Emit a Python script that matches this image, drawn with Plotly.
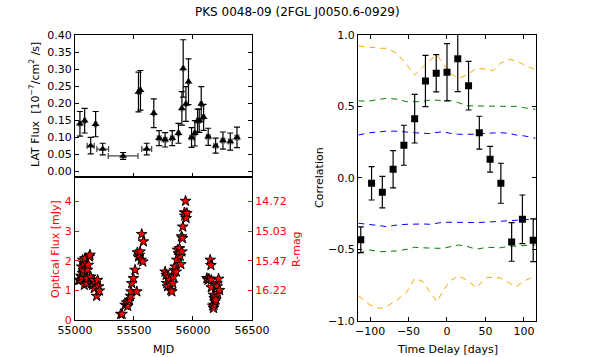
import plotly.graph_objects as go

# LAT gamma-ray light curve (MJD, flux in 1e-7 /cm2/s)
lat_mjd = [55042, 55082, 55133, 55175, 55235, 55408, 55538, 55555, 55608, 55668,
           55713, 55764, 55824, 55877, 55906, 55917, 55940, 55962, 55988, 56016,
           56039, 56053, 56070, 56090, 56129, 56192, 56254, 56316, 56373]
lat_flux = [0.140, 0.149, 0.076, 0.139, 0.066, 0.046, 0.233, 0.238, 0.066, 0.171,
            0.098, 0.093, 0.098, 0.112, 0.185, 0.302, 0.198, 0.263, 0.100, 0.112,
            0.149, 0.149, 0.198, 0.159, 0.102, 0.076, 0.091, 0.088, 0.100]
lat_err = [0.036, 0.036, 0.024, 0.037, 0.017, 0.010, 0.058, 0.058, 0.017, 0.042,
           0.022, 0.021, 0.022, 0.029, 0.049, 0.084, 0.051, 0.067, 0.029, 0.037,
           0.034, 0.034, 0.051, 0.038, 0.025, 0.022, 0.025, 0.025, 0.030]
lat_xerr = [8, 8, 30, 8, 50, 126, 6, 6, 42, 8,
            15, 15, 15, 10, 6, 6, 6, 6, 15, 10,
            8, 8, 8, 8, 15, 15, 15, 15, 15]

# optical R-band flux (mJy)
opt_mjd = [55031, 55042, 55051, 55057, 55057, 55065, 55065, 55071, 55076, 55079,
           55085, 55093, 55099, 55105, 55105, 55113, 55122, 55127, 55133, 55142,
           55150, 55156, 55164, 55173, 55184, 55192, 55201, 55207,
           55388, 55399, 55425, 55439, 55447, 55453, 55461, 55470, 55475, 55481,
           55495, 55509, 55524, 55529, 55538, 55546, 55552, 55560, 55566, 55575, 55580,
           55764, 55773, 55778, 55784, 55792, 55801, 55807, 55812, 55821, 55829,
           55835, 55841, 55849, 55858, 55863, 55869, 55877, 55886, 55892, 55897,
           55903, 55906, 55911, 55914, 55928, 55931, 55937, 55942, 55948,
           56118, 56127, 56135, 56146, 56152, 56155, 56155, 56168, 56174, 56174,
           56178, 56180, 56186, 56188, 56194, 56203, 56205, 56208, 56217, 56225]
opt_flux = [1.35, 1.35, 1.49, 1.80, 1.46, 2.03, 1.58, 1.69, 1.92, 1.18,
            2.08, 1.46, 1.24, 1.69, 1.41, 1.86, 2.14, 2.20, 1.46, 1.24,
            1.18, 1.35, 1.07, 1.24, 0.81, 1.35, 1.13, 0.99,
            0.20, 0.20, 0.51, 0.59, 0.47, 0.62, 0.68, 0.81, 0.96, 1.24,
            1.41, 1.69, 0.96, 2.28, 2.14, 2.20, 2.31, 2.03, 2.90, 1.97, 2.65,
            1.63, 1.52, 1.24, 1.13, 1.46, 1.35, 1.18, 1.01, 0.96, 1.24,
            1.46, 1.69, 1.80, 1.63, 2.03, 2.37, 2.25, 2.42, 2.16, 1.88,
            2.82, 2.31, 2.76, 3.15, 3.63, 3.52, 4.02, 3.44, 3.61,
            1.41, 1.35, 1.39, 2.03, 1.85, 1.35, 1.10, 0.48, 0.85, 0.40,
            0.51, 0.73, 0.62, 0.79, 0.68, 1.24, 1.13, 0.90, 1.39, 1.01]

rmag_vals = [1, 2, 3, 4]
rmag_text = ["16.22", "15.47", "15.03", "14.72"]

# DCF
lag = [-112, -98, -84, -70, -56, -42, -28, -14, 0, 14, 28, 42, 56, 70, 84, 98, 112]
dcf = [-0.433, -0.038, -0.10, 0.06, 0.228, 0.414, 0.678, 0.732, 0.739, 0.834,
       0.645, 0.316, 0.13, -0.038, -0.449, -0.29, -0.437]
dcf_err = [0.09, 0.117, 0.11, 0.13, 0.14, 0.17, 0.18, 0.13, 0.2, 0.23,
           0.17, 0.115, 0.09, 0.14, 0.135, 0.17, 0.15]

# significance levels
sig_lag = [-115, -100, -87, -78, -65, -52, -42, -31, -22, -13, -5, 4, 15, 26, 38, 52, 60, 69, 80, 90, 101, 115]
sig99_up = [0.923, 0.914, 0.907, 0.907, 0.872, 0.79, 0.72, 0.778, 0.825, 0.86, 0.802, 0.732,
            0.697, 0.72, 0.767, 0.76, 0.75, 0.802, 0.83, 0.82, 0.79, 0.755]
sig95_up = [0.538, 0.538, 0.55, 0.557, 0.55, 0.533, 0.533, 0.535, 0.545, 0.545, 0.545, 0.54,
            0.526, 0.505, 0.503, 0.503, 0.503, 0.503, 0.503, 0.50, 0.49, 0.48]
sig90_up = [0.30, 0.316, 0.322, 0.328, 0.326, 0.323, 0.316, 0.312, 0.31, 0.318, 0.323, 0.312,
            0.305, 0.305, 0.305, 0.312, 0.314, 0.316, 0.312, 0.30, 0.293, 0.277]
sig90_lo = [-0.318, -0.325, -0.335, -0.342, -0.33, -0.325, -0.323, -0.323, -0.325, -0.318, -0.311, -0.311,
            -0.313, -0.313, -0.313, -0.31, -0.307, -0.305, -0.298, -0.295, -0.29, -0.288]
sig95_lo = [-0.528, -0.505, -0.517, -0.517, -0.512, -0.50, -0.486, -0.49, -0.493, -0.493, -0.493, -0.485,
            -0.47, -0.48, -0.5, -0.486, -0.49, -0.49, -0.48, -0.477, -0.475, -0.47]
sig99_lo = [-0.827, -0.89, -0.914, -0.9, -0.855, -0.797, -0.703, -0.727, -0.80, -0.867, -0.79, -0.72,
            -0.687, -0.715, -0.769, -0.696, -0.698, -0.70, -0.734, -0.762, -0.72, -0.687]

FONT = "DejaVu Sans"
RED = "#ff0000"

fig = go.Figure()

fig.add_trace(go.Scatter(
    x=lat_mjd, y=lat_flux, mode="markers", xaxis="x", yaxis="y",
    marker=dict(symbol="triangle-up", size=7, color="black"),
    error_y=dict(type="data", array=lat_err, color="black", thickness=1.2, width=3),
    error_x=dict(type="data", array=lat_xerr, color="#444444", thickness=1.2, width=3),
))

fig.add_trace(go.Scatter(
    x=opt_mjd, y=opt_flux, mode="markers", xaxis="x2", yaxis="y2",
    marker=dict(symbol="star", size=8, color=RED, line=dict(color="black", width=1)),
))
# invisible trace to hold the R-mag axis
fig.add_trace(go.Scatter(x=[55000], y=[1], mode="markers", xaxis="x2", yaxis="y3",
                         marker=dict(opacity=0), hoverinfo="skip"))

for yy, col in [(sig99_up, "orange"), (sig95_up, "green"), (sig90_up, "blue"),
                (sig90_lo, "blue"), (sig95_lo, "green"), (sig99_lo, "orange")]:
    fig.add_trace(go.Scatter(x=sig_lag, y=yy, mode="lines", xaxis="x3", yaxis="y4",
                             line=dict(color=col, width=1, dash="6px,5px")))

fig.add_trace(go.Scatter(
    x=lag, y=dcf, mode="markers", xaxis="x3", yaxis="y4",
    marker=dict(symbol="square", size=7, color="black"),
    error_y=dict(type="data", array=dcf_err, color="black", thickness=1.2, width=3),
))

ax = dict(showgrid=False, zeroline=False, showline=True, linecolor="black", linewidth=1,
          ticks="inside", ticklen=4, tickcolor="black", automargin=False,
          tickfont=dict(family=FONT, size=11, color="black"))

L = [0.126, 0.4235]
R = [0.6017, 0.9008]

fig.update_layout(
    width=595, height=357, showlegend=False,
    margin=dict(l=0, r=0, t=0, b=0),
    paper_bgcolor="white", plot_bgcolor="white",
    font=dict(family=FONT, size=11, color="black"),
    xaxis=dict(ax, domain=L, anchor="y", range=[55000, 56500], tickvals=[55000, 55500, 56000, 56500],
               showticklabels=False, mirror="ticks"),
    yaxis=dict(ax, domain=[0.504, 0.902], anchor="x", range=[-0.016, 0.40], dtick=0.05,
               tickformat=".2f", mirror="ticks"),
    xaxis2=dict(ax, domain=L, anchor="y2", range=[55000, 56500], tickvals=[55000, 55500, 56000, 56500],
                tickformat="d", mirror=True),
    yaxis2=dict(ax, domain=[0.1036, 0.504], anchor="x2", range=[0, 4.83], dtick=1,
                tickcolor=RED, tickfont=dict(family=FONT, size=11, color=RED)),
    yaxis3=dict(ax, overlaying="y2", side="right", anchor="x2", range=[0, 4.83],
                tickvals=rmag_vals, ticktext=rmag_text,
                tickcolor=RED, tickfont=dict(family=FONT, size=11, color=RED)),
    xaxis3=dict(ax, domain=R, anchor="y4", range=[-115.6, 115.6], dtick=50, mirror="ticks"),
    yaxis4=dict(ax, domain=[0.1017, 0.902], anchor="x3", range=[-1, 1], dtick=0.5,
                tickformat=".1f", mirror="ticks"),
)

ann = [
    dict(text="PKS 0048-09 (2FGL J0050.6-0929)", x=0.5, y=12, size=12, color="black", angle=0),
    dict(text="LAT Flux  [10<sup>−7</sup>/cm<sup>2</sup> /s]", x=34 / 595, y=105, size=11, color="black", angle=-90),
    dict(text="Optical Flux [mJy]", x=55 / 595, y=249, size=11, color=RED, angle=-90),
    dict(text="R-mag", x=296 / 595, y=249, size=11, color=RED, angle=-90),
    dict(text="MJD", x=163 / 595, y=349, size=11, color="black", angle=0),
    dict(text="Correlation", x=319 / 595, y=178, size=11, color="black", angle=-90),
    dict(text="Time Delay [days]", x=447 / 595, y=349, size=11, color="black", angle=0),
]
for a in ann:
    fig.add_annotation(text=a["text"], x=a["x"], y=1 - a["y"] / 357, xref="paper", yref="paper",
                       showarrow=False, textangle=a["angle"], xanchor="center", yanchor="middle",
                       font=dict(family=FONT, size=a["size"], color=a["color"]))

fig.write_html("out.html", config={"displayModeBar": False},
               post_script="document.body.style.margin='0';document.body.style.overflow='hidden';")
